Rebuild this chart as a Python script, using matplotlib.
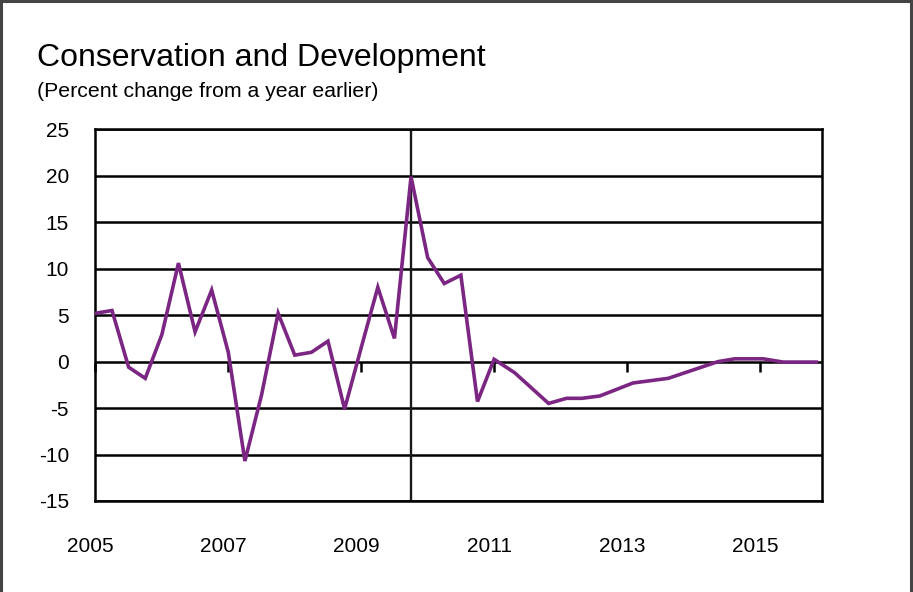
import matplotlib
matplotlib.use("Agg")
import matplotlib.pyplot as plt
from matplotlib.lines import Line2D
from matplotlib.transforms import ScaledTranslation

plt.rcParams['font.family'] = ['Liberation Sans', 'DejaVu Sans']

# Percent change from a year earlier (dates as fractional years)
dates = [2005.00, 2005.25, 2005.50, 2005.75, 2006.00, 2006.25, 2006.50, 2006.75,
         2007.00, 2007.25, 2007.50, 2007.75, 2008.00, 2008.25, 2008.50, 2008.75,
         2009.00, 2009.25, 2009.50, 2009.75, 2010.00, 2010.25, 2010.50, 2010.75,
         2011.00, 2011.31, 2011.82, 2012.09, 2012.32, 2012.59, 2013.09, 2013.62,
         2014.37, 2014.62, 2015.05, 2015.35, 2015.85]
values = [5.2, 5.5, -0.6, -1.8, 2.9, 10.6, 3.2, 7.7,
          1.0, -10.7, -3.6, 5.2, 0.7, 1.0, 2.2, -5.1,
          1.5, 8.0, 2.5, 19.9, 11.2, 8.4, 9.3, -4.3,
          0.25, -1.2, -4.5, -3.95, -3.95, -3.7, -2.3, -1.8,
          0.0, 0.3, 0.3, -0.05, -0.05]

marker_date = 2009.75
year_ticks = [2005, 2007, 2009, 2011, 2013, 2015]
y_ticks = [-15, -10, -5, 0, 5, 10, 15, 20, 25]

title = "Conservation and Development"
subtitle = "(Percent change from a year earlier)"

W, H = 913, 592
fig = plt.figure(figsize=(W / 100, H / 100), dpi=100)
fig.patch.set_facecolor('white')

left, right, top, bottom = 95.4, 821.7, 129.3, 501.0
ax = fig.add_axes([left / W, 1 - bottom / H, (right - left) / W, (bottom - top) / H])

ax.set_xlim(2005.0, 2005.0 + (right - left) / 66.45)
ax.set_ylim(-15, 25)

# horizontal gridlines and frame
ax.set_yticks(y_ticks)
ax.yaxis.grid(True, color='black', linewidth=1.8)
ax.set_axisbelow(True)
for sp in ax.spines.values():
    sp.set_color('black')
    sp.set_linewidth(1.8)

ax.axvline(marker_date, color='#1a1a1a', linewidth=1.7, zorder=2)

ax.plot(dates, values, color='#7B2683', linewidth=2.6, zorder=3,
        solid_joinstyle='miter')

# y tick labels
ax.tick_params(axis='y', length=0, pad=19, labelsize=15)
ax.set_yticklabels([str(v) for v in y_ticks])

# year labels along the bottom, small ticks on the zero line
ax.set_xticks(year_ticks)
ax.set_xticklabels([str(y) for y in year_ticks])
ax.tick_params(axis='x', length=0, pad=26, labelsize=15)
shift = ScaledTranslation(-5 / 100, 0, fig.dpi_scale_trans)
for lbl in ax.get_xticklabels():
    lbl.set_transform(lbl.get_transform() + shift)

zero_axis = ax.secondary_xaxis(15 / 40)
zero_axis.set_xticks(year_ticks)
zero_axis.tick_params(axis='x', direction='out', length=7, width=1.8,
                      color='black', labelbottom=False, labeltop=False)
zero_axis.spines['bottom'].set_visible(False)
zero_axis.spines['top'].set_visible(False)

fig.text(37 / W, 1 - 66 / H, title, fontsize=23, ha='left', va='baseline')
fig.text(37 / W, 1 - 97 / H, subtitle, fontsize=15.3, ha='left', va='baseline')

# outer frame (left, top, right)
frame_kw = dict(color='#444444', linewidth=2.2, transform=fig.transFigure)
fig.add_artist(Line2D([1 / W, 1 / W], [0, 1 - 1 / H], **frame_kw))
fig.add_artist(Line2D([1 / W, 1 - 2 / W], [1 - 1 / H, 1 - 1 / H], **frame_kw))
fig.add_artist(Line2D([1 - 2 / W, 1 - 2 / W], [0, 1 - 1 / H], **frame_kw))

fig.savefig('out.png', dpi=100, facecolor='white')
